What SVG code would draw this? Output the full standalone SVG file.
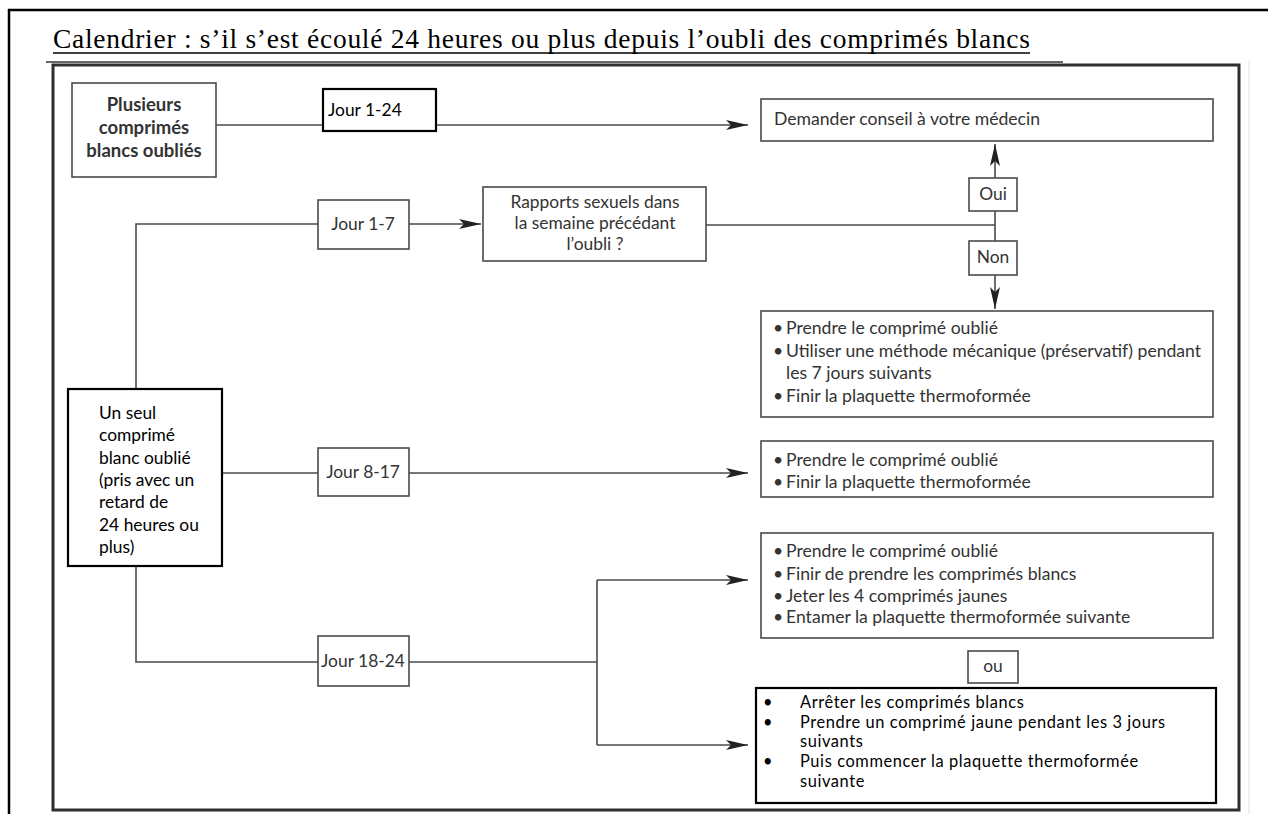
<svg xmlns="http://www.w3.org/2000/svg" width="1268" height="814" viewBox="0 0 1268 814">
<style>
.m{font-family:Lato,"Liberation Sans",sans-serif;font-size:17.6px;fill:#333;}
.mc{font-family:Lato,"Liberation Sans",sans-serif;font-size:17.4px;fill:#333;text-anchor:middle;}
.b{font-weight:bold;font-size:18.5px;}
.c{font-family:Lato,"Liberation Sans",sans-serif;font-size:17.4px;fill:#000;}
.c4{font-family:Lato,"Liberation Sans",sans-serif;font-size:16.4px;letter-spacing:0.6px;fill:#000;}
.g{fill:#fff;stroke:#4a4a4a;stroke-width:1.6;}
.k{fill:#fff;stroke:#000;stroke-width:2.2;}
.ln{fill:none;stroke:#4a4a4a;stroke-width:1.6;}
</style>
<defs>
<marker id="ah" viewBox="0 0 22 10" refX="22" refY="5" markerWidth="22" markerHeight="10" markerUnits="userSpaceOnUse" orient="auto">
<path d="M0,0 L22,5 L0,10 L5,5 z" fill="#222"/>
</marker>
</defs>
<rect width="1268" height="814" fill="#fff"/>
<g id="page">
<line x1="8" y1="10" x2="1268" y2="10" stroke="#000" stroke-width="2.5"/>
<line x1="9" y1="9" x2="9" y2="814" stroke="#000" stroke-width="2.5"/>
<text x="53" y="48" font-family="'Liberation Serif',serif" font-size="27.5" fill="#000" textLength="977" lengthAdjust="spacing">Calendrier : s’il s’est écoulé 24 heures ou plus depuis l’oubli des comprimés blancs</text>
<line x1="53" y1="53" x2="1030" y2="53" stroke="#000" stroke-width="1.3"/>
<line x1="46" y1="62" x2="1063" y2="62" stroke="#333" stroke-width="1.3"/>
<line x1="1249" y1="60" x2="1249" y2="814" stroke="#e2e2e2" stroke-width="1"/>
<rect x="53" y="65" width="1186" height="745" fill="none" stroke="#2e2e2e" stroke-width="3"/>
</g>
<g id="connectors">
<path class="ln" d="M216,125 H748" marker-end="url(#ah)"/>
<path class="ln" d="M318,224 H136 V389"/>
<path class="ln" d="M136,566 V662 H318"/>
<path class="ln" d="M409,224 H481" marker-end="url(#ah)"/>
<path class="ln" d="M706,225 H995"/>
<path class="ln" d="M995,225 V144" marker-end="url(#ah)"/>
<path class="ln" d="M995,225 V309" marker-end="url(#ah)"/>
<path class="ln" d="M222,473 H318"/>
<path class="ln" d="M409,473 H748" marker-end="url(#ah)"/>
<path class="ln" d="M409,662 H597"/>
<path class="ln" d="M597,580 V745"/>
<path class="ln" d="M597,580 H748" marker-end="url(#ah)"/>
<path class="ln" d="M597,745 H748" marker-end="url(#ah)"/>
</g>
<g id="plusieurs">
<rect class="g" x="72" y="83" width="144" height="94"/>
<text class="mc b" x="144" y="111">Plusieurs</text>
<text class="mc b" x="144" y="134">comprimés</text>
<text class="mc b" x="144" y="157">blancs oubliés</text>
</g>
<g id="jour1-24">
<rect class="k" x="323" y="89" width="113" height="42"/>
<text class="c" x="328" y="116">Jour 1-24</text>
</g>
<g id="demander">
<rect class="g" x="761" y="99" width="452" height="42"/>
<text class="m" x="774" y="125">Demander conseil à votre médecin</text>
</g>
<g id="jour1-7">
<rect class="g" x="318" y="200" width="91" height="49"/>
<text class="mc" x="363" y="230">Jour 1-7</text>
</g>
<g id="rapports">
<rect class="g" x="483" y="187" width="223" height="74"/>
<text class="mc" x="595" y="208">Rapports sexuels dans</text>
<text class="mc" x="595" y="229">la semaine précédant</text>
<text class="mc" x="595" y="250">l’oubli ?</text>
</g>
<g id="oui">
<rect class="g" x="969" y="178" width="48" height="33"/>
<text class="mc" x="993" y="200">Oui</text>
</g>
<g id="non">
<rect class="g" x="969" y="241" width="48" height="34"/>
<text class="mc" x="993" y="263">Non</text>
</g>
<g id="action1">
<rect class="g" x="761" y="311" width="452" height="106"/>
<text class="m" x="773" y="334">•</text><text class="m" x="786" y="334">Prendre le comprimé oublié</text>
<text class="m" x="773" y="357">•</text><text class="m" x="786" y="357">Utiliser une méthode mécanique (préservatif) pendant</text>
<text class="m" x="786" y="379">les 7 jours suivants</text>
<text class="m" x="773" y="402">•</text><text class="m" x="786" y="402">Finir la plaquette thermoformée</text>
</g>
<g id="unseul">
<rect class="k" x="68" y="389" width="154" height="177"/>
<text class="c" x="99" y="419">Un seul</text>
<text class="c" x="99" y="441">comprimé</text>
<text class="c" x="99" y="464">blanc oublié</text>
<text class="c" x="99" y="486">(pris avec un</text>
<text class="c" x="99" y="508">retard de</text>
<text class="c" x="99" y="531">24 heures ou</text>
<text class="c" x="99" y="553">plus)</text>
</g>
<g id="jour8-17">
<rect class="g" x="318" y="448" width="91" height="48"/>
<text class="mc" x="363" y="478">Jour 8-17</text>
</g>
<g id="action2">
<rect class="g" x="761" y="441" width="452" height="56"/>
<text class="m" x="773" y="466">•</text><text class="m" x="786" y="466">Prendre le comprimé oublié</text>
<text class="m" x="773" y="488">•</text><text class="m" x="786" y="488">Finir la plaquette thermoformée</text>
</g>
<g id="jour18-24">
<rect class="g" x="318" y="636" width="91" height="50"/>
<text class="mc" x="363" y="667">Jour 18-24</text>
</g>
<g id="action3">
<rect class="g" x="761" y="533" width="452" height="105"/>
<text class="m" x="773" y="557">•</text><text class="m" x="786" y="557">Prendre le comprimé oublié</text>
<text class="m" x="773" y="580">•</text><text class="m" x="786" y="580">Finir de prendre les comprimés blancs</text>
<text class="m" x="773" y="602">•</text><text class="m" x="786" y="602">Jeter les 4 comprimés jaunes</text>
<text class="m" x="773" y="623">•</text><text class="m" x="786" y="623">Entamer la plaquette thermoformée suivante</text>
</g>
<g id="ou">
<rect class="g" x="968" y="651" width="50" height="32"/>
<text class="mc" x="993" y="672">ou</text>
</g>
<g id="action4">
<rect class="k" x="756" y="688" width="460" height="115"/>
<text class="c4" x="763" y="708">•</text><text class="c4" x="800" y="708">Arrêter les comprimés blancs</text>
<text class="c4" x="763" y="727.5">•</text><text class="c4" x="800" y="727.5">Prendre un comprimé jaune pendant les 3 jours</text>
<text class="c4" x="800" y="747">suivants</text>
<text class="c4" x="763" y="767">•</text><text class="c4" x="800" y="767">Puis commencer la plaquette thermoformée</text>
<text class="c4" x="800" y="787">suivante</text>
</g>
</svg>
